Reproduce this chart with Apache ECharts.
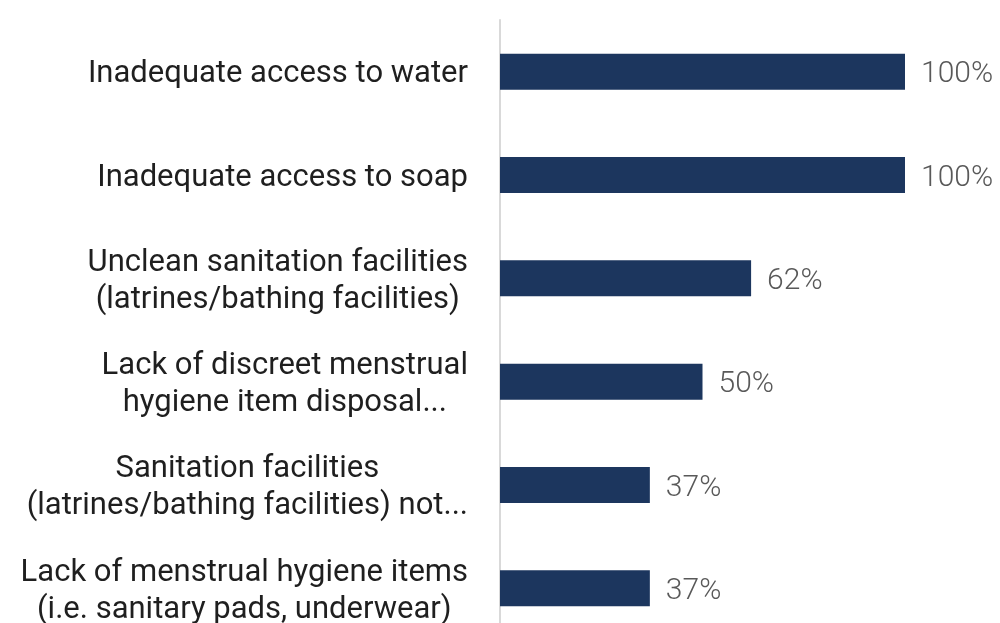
<!DOCTYPE html>
<html>
<head>
<meta charset="utf-8">
<script src="https://cdn.jsdelivr.net/npm/echarts@6/dist/echarts.min.js"></script>
<style>
  html, body { margin: 0; padding: 0; background: #fff; }
  #chart { width: 1000px; height: 623px; }
</style>
</head>
<body>
<div id="chart"></div>
<script>
// Reported WASH barriers, share of respondents (%)
const categories = [
  ['Inadequate access to water'],
  ['Inadequate access to soap'],
  ['Unclean sanitation facilities', '(latrines/bathing facilities)'],
  ['Lack of discreet menstrual', 'hygiene item disposal...'],
  ['Sanitation facilities', '(latrines/bathing facilities) not...'],
  ['Lack of menstrual hygiene items', '(i.e. sanitary pads, underwear)']
];
const values = [100, 100, 62, 50, 37, 37];

const chart = echarts.init(document.getElementById('chart'), null, { renderer: 'canvas' });

chart.setOption({
  animation: false,
  backgroundColor: '#ffffff',
  grid: {
    left: 500, top: 20, width: 405, height: 620,
    containLabel: false,
    outerBoundsMode: 'none'
  },
  xAxis: {
    type: 'value',
    min: 0,
    max: 100,
    show: false
  },
  yAxis: {
    type: 'category',
    inverse: true,
    data: categories.map((lines, i) => String(i)),
    axisLine: { show: true, lineStyle: { color: '#d9d9d9', width: 2 } },
    axisTick: { show: false },
    splitLine: { show: false },
    axisLabel: {
      margin: 32,
      align: 'right',
      padding: [6, 0, 0, 0],
      formatter: (v) => categories[+v].map(l => '{c|' + l + '}').join('\n'),
      rich: {
        c: {
          align: 'center',
          fontFamily: 'Roboto',
          fontSize: 31,
          lineHeight: 37,
          color: '#1f1f1f'
        }
      }
    }
  },
  series: [{
    type: 'bar',
    data: values,
    barWidth: 36,
    itemStyle: { color: '#1c365e' },
    label: {
      show: true,
      position: 'right',
      distance: 16,
      offset: [0, 3],
      formatter: '{c}%',
      fontFamily: 'Roboto',
      fontWeight: 300,
      fontSize: 30,
      color: '#595959'
    }
  }]
});
</script>
</body>
</html>
